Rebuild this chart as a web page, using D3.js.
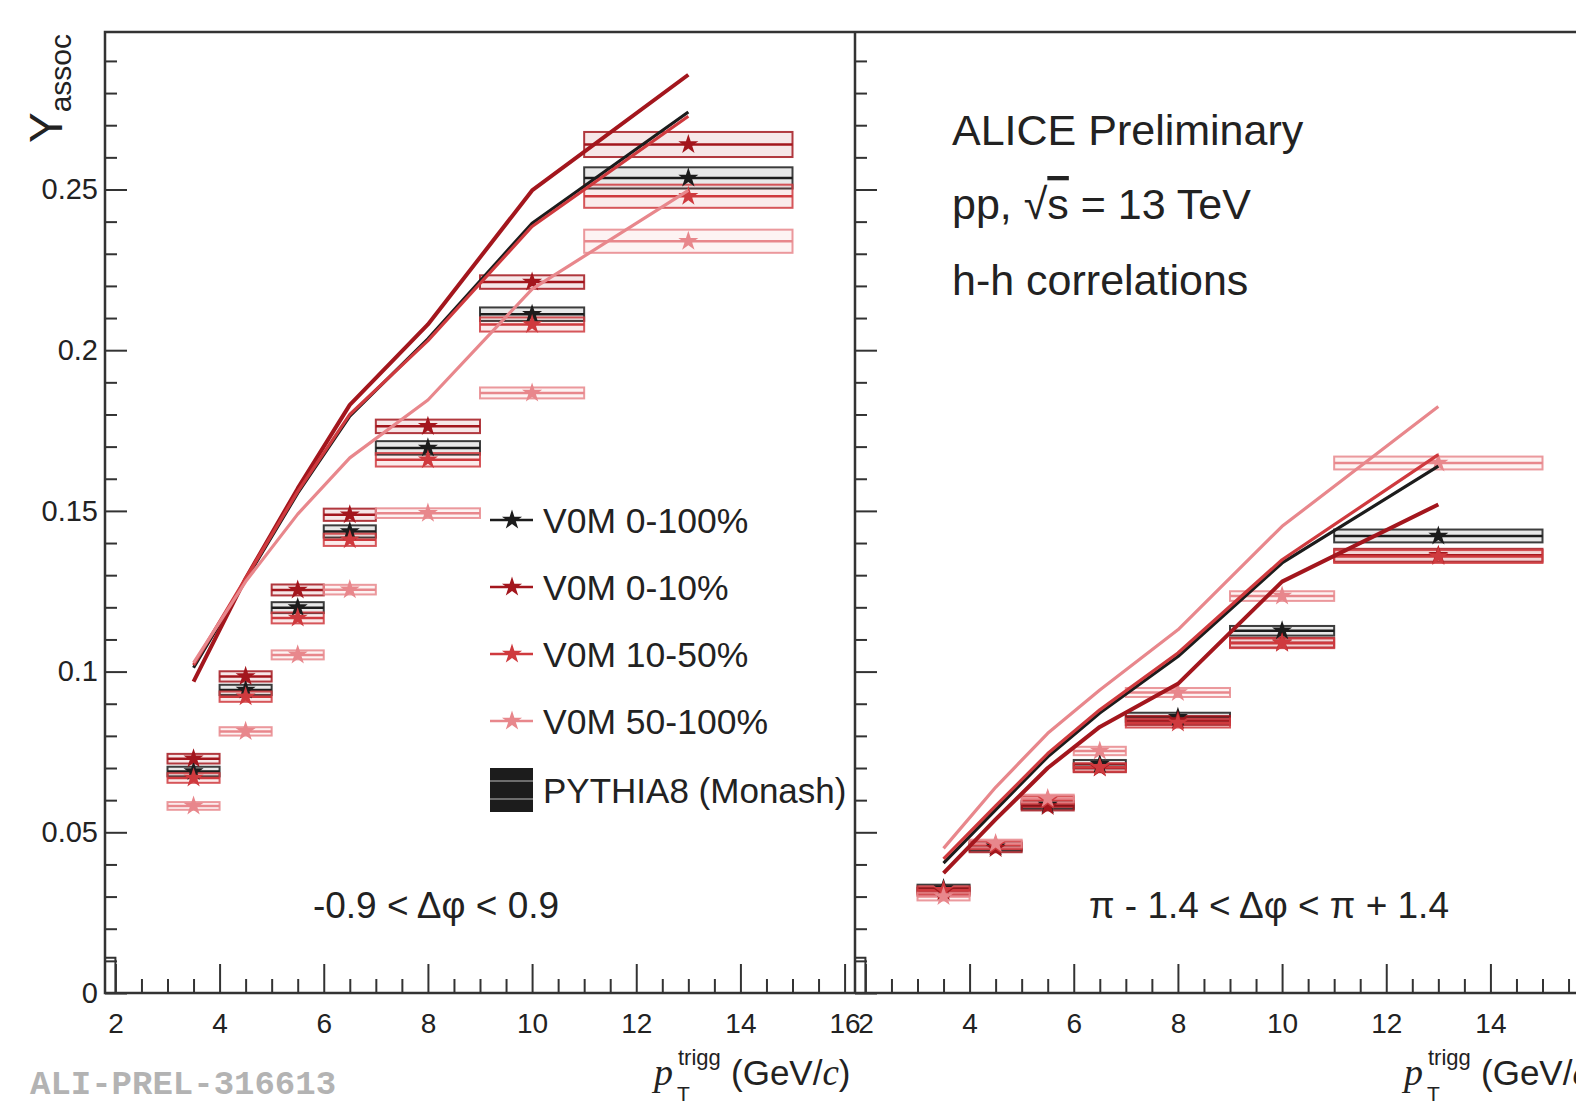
<!DOCTYPE html>
<html>
<head>
<meta charset="utf-8">
<script src="https://cdn.jsdelivr.net/npm/d3@7"></script>
<style>
  body { margin: 0; background: #fff; }
  svg { display: block; }
</style>
</head>
<body>
<div id="chart"></div>
<script>
// pT trigger bins
const ptLo = [3, 4, 5, 6, 7, 9, 11];
const ptHi = [4, 5, 6, 7, 9, 11, 15];
const ptMid = [3.5, 4.5, 5.5, 6.5, 8, 10, 13];

const classNames = ["V0M 0-100%", "V0M 0-10%", "V0M 10-50%", "V0M 50-100%"];
const classColors = ["#1c1c1c", "#a3161d", "#cf3a3e", "#e8878c"];

// near side (-0.9 < dphi < 0.9)
const nearData0_100 = [0.0689, 0.0943, 0.1199, 0.1436, 0.1696, 0.2112, 0.2536];
const nearData0_10 = [0.0729, 0.0985, 0.1254, 0.1488, 0.1763, 0.2212, 0.2640];
const nearData10_50 = [0.0669, 0.0922, 0.1167, 0.1410, 0.1659, 0.2080, 0.2479];
const nearData50_100 = [0.0582, 0.0814, 0.1052, 0.1255, 0.1493, 0.1867, 0.2339];

const nearSys0_100 = [0.0015, 0.0016, 0.0017, 0.0019, 0.0021, 0.0021, 0.0033];
const nearSys0_10 = [0.0015, 0.0016, 0.0017, 0.0019, 0.0021, 0.0021, 0.0039];
const nearSys10_50 = [0.0015, 0.0016, 0.0017, 0.0019, 0.0021, 0.0022, 0.0036];
const nearSys50_100 = [0.0012, 0.0013, 0.0014, 0.0015, 0.0015, 0.0017, 0.0036];

const nearMc0_100 = [0.1012, 0.1285, 0.1555, 0.1795, 0.2035, 0.2395, 0.2741];
const nearMc0_10 = [0.0969, 0.1290, 0.1570, 0.1830, 0.2080, 0.2497, 0.2857];
const nearMc10_50 = [0.1020, 0.1290, 0.1560, 0.1800, 0.2030, 0.2385, 0.2728];
const nearMc50_100 = [0.1027, 0.1280, 0.1490, 0.1665, 0.1845, 0.2190, 0.2497];

// away side (pi - 1.4 < dphi < pi + 1.4)
const awayData0_100 = [0.0325, 0.0455, 0.0585, 0.0712, 0.0858, 0.1127, 0.1422];
const awayData0_10 = [0.0315, 0.0450, 0.0580, 0.0700, 0.0848, 0.1090, 0.1362];
const awayData10_50 = [0.0320, 0.0460, 0.0600, 0.0702, 0.0840, 0.1088, 0.1358];
const awayData50_100 = [0.0300, 0.0465, 0.0605, 0.0753, 0.0935, 0.1235, 0.1649];

const awaySys = [0.0012, 0.0012, 0.0012, 0.0013, 0.0014, 0.0015, 0.0020];

const awayMc0_100 = [0.0404, 0.0570, 0.0735, 0.0871, 0.1047, 0.1338, 0.1639];
const awayMc0_10 = [0.0373, 0.0540, 0.0700, 0.0828, 0.0962, 0.1280, 0.1520];
const awayMc10_50 = [0.0417, 0.0582, 0.0745, 0.0881, 0.1058, 0.1348, 0.1675];
const awayMc50_100 = [0.0450, 0.0640, 0.0808, 0.0943, 0.1130, 0.1452, 0.1825];

// axis ticks
const xMajorNear = [2, 4, 6, 8, 10, 12, 14, 16];
const xMajorAway = [2, 4, 6, 8, 10, 12, 14];
const yMajor = [0, 0.05, 0.1, 0.15, 0.2, 0.25];

const width = 1576, height = 1106;
const font = "'Liberation Sans', Arial, sans-serif";
const serif = "'Liberation Serif', 'Times New Roman', serif";

const svg = d3.select("#chart")
    .append("svg")
    .attr("width", width)
    .attr("height", height);

// scales: two panels sharing the y axis
const xNear = d3.scaleLinear().domain([1.8, 16.2]).range([105, 855]);
const xAway = d3.scaleLinear().domain([1.8, 16.2]).range([855, 1605]);
const y = d3.scaleLinear().domain([0, 0.299]).range([993, 32]);

const xMinor = d3.range(2, 16.01, 0.5).filter(v => v % 2 !== 0);
const yMinor = d3.range(1, 30).map(v => v / 100).filter(v => Math.round(v * 100) % 5 !== 0);

const star = d3.symbol().type(d3.symbolStar).size(125);

function drawPanel(x, xMajor, series, mcSeries, label, labelX) {
    const g = svg.append("g");

    // systematic boxes
    series.forEach((s, i) => {
        const col = classColors[i];
        s.vals.forEach((v, j) => {
            const x0 = x(ptLo[j]), x1 = x(ptHi[j]);
            g.append("rect")
                .attr("x", x0)
                .attr("y", y(v + s.sys[j]))
                .attr("width", x1 - x0)
                .attr("height", y(v - s.sys[j]) - y(v + s.sys[j]))
                .attr("fill", col)
                .attr("fill-opacity", 0.1)
                .attr("stroke", col)
                .attr("stroke-opacity", 0.85)
                .attr("stroke-width", 2);
            g.append("line")
                .attr("x1", x0).attr("x2", x1)
                .attr("y1", y(v)).attr("y2", y(v))
                .attr("stroke", col)
                .attr("stroke-width", 2.5);
        });
    });

    // star markers
    series.forEach((s, i) => {
        g.selectAll(null)
            .data(s.vals)
            .join("path")
            .attr("d", star)
            .attr("transform", (v, j) => `translate(${x(ptMid[j])},${y(v)})`)
            .attr("fill", classColors[i]);
    });

    // PYTHIA8 curves
    const line = d3.line()
        .x((v, j) => x(ptMid[j]))
        .y(v => y(v));
    mcSeries.forEach((m, i) => {
        g.append("path")
            .attr("d", line(m))
            .attr("fill", "none")
            .attr("stroke", classColors[i])
            .attr("stroke-width", i === 1 ? 4 : 3.2)
            .attr("stroke-linejoin", "round");
    });

    // x axis ticks (pointing inward)
    svg.append("g")
        .attr("transform", `translate(0,${y(0)})`)
        .call(d3.axisBottom(x).tickValues(xMajor).tickSize(-29).tickPadding(20).tickFormat(d3.format("d")))
        .call(a => a.select(".domain").remove())
        .call(a => a.selectAll("line").attr("stroke", "#333").attr("stroke-width", 2))
        .call(a => a.selectAll("text").attr("fill", "#222").style("font-family", font).style("font-size", "28px"));
    svg.append("g")
        .attr("transform", `translate(0,${y(0)})`)
        .call(d3.axisBottom(x).tickValues(xMinor).tickSize(-14).tickFormat(""))
        .call(a => a.select(".domain").remove())
        .call(a => a.selectAll("line").attr("stroke", "#333").attr("stroke-width", 2));

    // small stub at the lower edge of the frame
    svg.append("path")
        .attr("d", `M${x(1.8)},${y(0)}V${y(0.011)}H${x(2.0)}V${y(0)}`)
        .attr("fill", "none")
        .attr("stroke", "#333")
        .attr("stroke-width", 2);

    // y axis ticks on the panel's left edge
    svg.append("g")
        .attr("transform", `translate(${x(1.8)},0)`)
        .call(d3.axisLeft(y).tickValues(yMajor).tickSize(-22).tickFormat(""))
        .call(a => a.select(".domain").remove())
        .call(a => a.selectAll("line").attr("stroke", "#333").attr("stroke-width", 2));
    svg.append("g")
        .attr("transform", `translate(${x(1.8)},0)`)
        .call(d3.axisLeft(y).tickValues(yMinor).tickSize(-12).tickFormat(""))
        .call(a => a.select(".domain").remove())
        .call(a => a.selectAll("line").attr("stroke", "#333").attr("stroke-width", 2));

    // dphi range label
    svg.append("text")
        .attr("x", labelX)
        .attr("y", 918)
        .attr("text-anchor", "middle")
        .style("font-family", font)
        .style("font-size", "37px")
        .attr("fill", "#222")
        .text(label);

    // x axis title
    const t = svg.append("text")
        .attr("x", x(1.8) + 549)
        .attr("y", 1085)
        .attr("fill", "#222");
    t.append("tspan")
        .style("font-family", serif)
        .style("font-style", "italic")
        .style("font-size", "38px")
        .text("p");
    t.append("tspan")
        .attr("dx", 5).attr("dy", -20)
        .style("font-family", font)
        .style("font-size", "22px")
        .text("trigg");
    t.append("tspan")
        .attr("x", x(1.8) + 572).attr("dy", 36)
        .style("font-family", font)
        .style("font-size", "21px")
        .text("T");
    t.append("tspan")
        .attr("x", x(1.8) + 626).attr("dy", -16)
        .style("font-family", font)
        .style("font-size", "35px")
        .text("(GeV/");
    t.append("tspan")
        .style("font-family", serif)
        .style("font-style", "italic")
        .style("font-size", "37px")
        .text("c");
    t.append("tspan")
        .style("font-family", font)
        .style("font-size", "35px")
        .text(")");
}

drawPanel(xNear, xMajorNear, [
    { vals: nearData0_100, sys: nearSys0_100 },
    { vals: nearData0_10, sys: nearSys0_10 },
    { vals: nearData10_50, sys: nearSys10_50 },
    { vals: nearData50_100, sys: nearSys50_100 }
], [nearMc0_100, nearMc0_10, nearMc10_50, nearMc50_100], "-0.9 < \u0394\u03C6 < 0.9", 436);

drawPanel(xAway, xMajorAway, [
    { vals: awayData0_100, sys: awaySys },
    { vals: awayData0_10, sys: awaySys },
    { vals: awayData10_50, sys: awaySys },
    { vals: awayData50_100, sys: awaySys }
], [awayMc0_100, awayMc0_10, awayMc10_50, awayMc50_100], "\u03C0 - 1.4 < \u0394\u03C6 < \u03C0 + 1.4", 1269);

// y tick labels (left panel only)
svg.append("g")
    .attr("transform", `translate(105,0)`)
    .call(d3.axisLeft(y).tickValues(yMajor).tickSize(0).tickPadding(7)
        .tickFormat(d => d === 0 ? "0" : String(+d.toFixed(2))))
    .call(a => a.select(".domain").remove())
    .call(a => a.selectAll("text").attr("fill", "#222").style("font-family", font).style("font-size", "29px"));

// frame
svg.append("path")
    .attr("d", `M${width},32H105V993H${width}M855,32V993`)
    .attr("fill", "none")
    .attr("stroke", "#333")
    .attr("stroke-width", 2.5);

// y axis title
const yt = svg.append("text")
    .attr("transform", "translate(62,143) rotate(-90)")
    .attr("fill", "#222")
    .style("font-family", font);
yt.append("tspan").style("font-size", "46px").text("Y");
yt.append("tspan").attr("dy", 9).style("font-size", "30px").text("assoc");

// legend
const legX = 490, legY = [520, 587, 654, 721];
classNames.forEach((name, i) => {
    svg.append("line")
        .attr("x1", legX).attr("x2", legX + 43)
        .attr("y1", legY[i]).attr("y2", legY[i])
        .attr("stroke", classColors[i])
        .attr("stroke-width", 2.5);
    svg.append("path")
        .attr("d", star)
        .attr("transform", `translate(${legX + 22},${legY[i]})`)
        .attr("fill", classColors[i]);
    svg.append("text")
        .attr("x", 543).attr("y", legY[i])
        .attr("dy", "0.36em")
        .style("font-family", font)
        .style("font-size", "35.5px")
        .attr("fill", "#222")
        .text(name);
});
svg.append("rect")
    .attr("x", legX).attr("y", 768)
    .attr("width", 43).attr("height", 44)
    .attr("fill", "#1c1c1c");
[781, 799].forEach(yy => {
    svg.append("line")
        .attr("x1", legX).attr("x2", legX + 43)
        .attr("y1", yy).attr("y2", yy)
        .attr("stroke", "#888").attr("stroke-width", 1.5);
});
svg.append("text")
    .attr("x", 543).attr("y", 790)
    .attr("dy", "0.36em")
    .style("font-family", font)
    .style("font-size", "35px")
    .attr("fill", "#222")
    .text("PYTHIA8 (Monash)");

// header text
const header = svg.append("g")
    .style("font-family", font)
    .style("font-size", "43px")
    .attr("fill", "#222");
header.append("text").attr("x", 952).attr("y", 145).text("ALICE Preliminary");
const pp = header.append("text").attr("x", 952).attr("y", 219);
pp.append("tspan").text("pp, \u221A");
pp.append("tspan").style("text-decoration", "overline").text("s");
pp.append("tspan").text(" = 13 TeV");
header.append("text").attr("x", 952).attr("y", 295).text("h-h correlations");

// preliminary figure id
svg.append("text")
    .attr("x", 30).attr("y", 1094)
    .style("font-family", "'Liberation Mono', 'Courier New', monospace")
    .style("font-weight", "bold")
    .style("font-size", "34px")
    .attr("fill", "#b3b3b3")
    .text("ALI-PREL-316613");
</script>
</body>
</html>
